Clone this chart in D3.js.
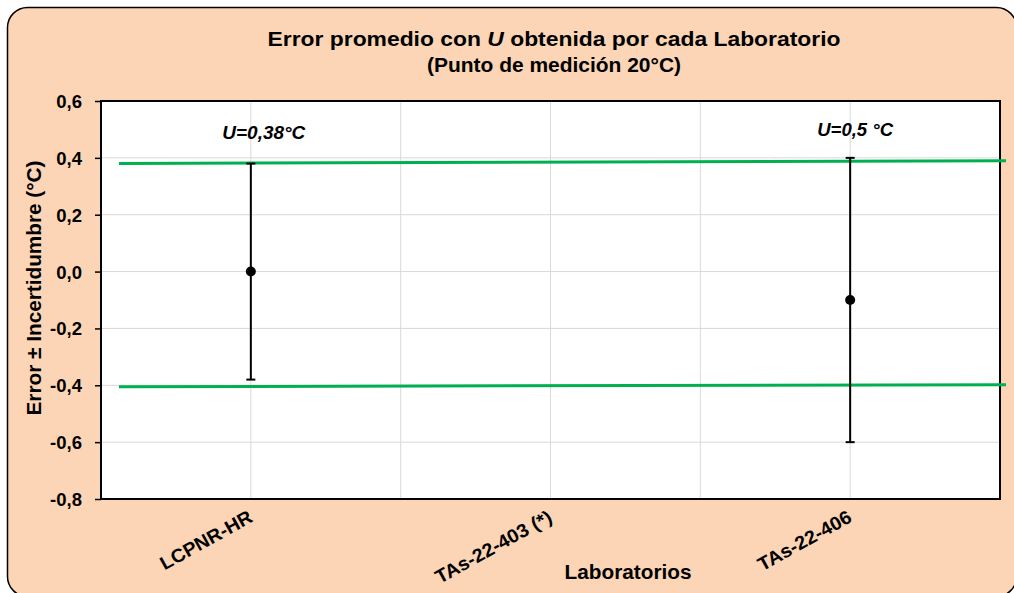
<!DOCTYPE html>
<html>
<head>
<meta charset="utf-8">
<script src="https://cdn.jsdelivr.net/npm/d3@7"></script>
<style>
  body { margin: 0; background: #fff; }
  text { font-family: Arial, "Liberation Sans", sans-serif; font-weight: bold; fill: #000; }
</style>
</head>
<body>
<div id="chart"></div>
<script>
// Data
const labs = ["LCPNR-HR", "TAs-22-403 (*)", "TAs-22-406"];
const labX = [1, 2, 3];
const meanError = [0.0, null, -0.1];
const uncertainty = [0.38, null, 0.5];
const uLabels = ["U=0,38°C", null, "U=0,5 °C"];
const uLabelY = [0.49, null, 0.5];
const upperLimitX = [0.56, 3.52];
const upperLimitY = [0.38, 0.39];
const lowerLimitX = [0.56, 3.52];
const lowerLimitY = [-0.405, -0.398];
const yTicks = [-0.8, -0.6, -0.4, -0.2, 0.0, 0.2, 0.4, 0.6];
const xGrid = [1, 1.5, 2, 2.5, 3];

const width = 1014, height = 593;
const margin = {top: 101, right: 14, bottom: 94, left: 101};

const svg = d3.select("#chart").append("svg")
    .attr("width", width)
    .attr("height", height);

// outer panel (runs slightly past the right and bottom edges)
svg.append("rect")
    .attr("x", 7.5).attr("y", 7.5)
    .attr("width", 1009).attr("height", 589)
    .attr("rx", 20).attr("ry", 20)
    .attr("fill", "#FBD5B5")
    .attr("stroke", "#000")
    .attr("stroke-width", 1.5);

const xScale = d3.scaleLinear()
    .domain([0.5, 3.5])
    .range([margin.left, width - margin.right]);

const yScale = d3.scaleLinear()
    .domain([-0.8, 0.6])
    .range([height - margin.bottom, margin.top]);

// plot area
svg.append("rect")
    .attr("x", xScale(0.5)).attr("y", yScale(0.6))
    .attr("width", xScale(3.5) - xScale(0.5))
    .attr("height", yScale(-0.8) - yScale(0.6))
    .attr("fill", "#fff");

// grid lines
svg.append("g").selectAll("line.h")
    .data(yTicks.slice(1, -1))
    .enter().append("line")
    .attr("x1", xScale(0.5)).attr("x2", xScale(3.5))
    .attr("y1", d => yScale(d)).attr("y2", d => yScale(d))
    .attr("stroke", "#d9d9d9").attr("stroke-width", 1);

svg.append("g").selectAll("line.v")
    .data(xGrid)
    .enter().append("line")
    .attr("x1", d => xScale(d)).attr("x2", d => xScale(d))
    .attr("y1", yScale(0.6)).attr("y2", yScale(-0.8))
    .attr("stroke", "#d9d9d9").attr("stroke-width", 1);

// y axis
const yAxis = d3.axisLeft(yScale)
    .tickValues(yTicks)
    .tickSize(6)
    .tickFormat(d => d3.format(".1f")(d).replace(".", ",").replace("−", "-"));

const yG = svg.append("g")
    .attr("transform", `translate(${xScale(0.5)},0)`)
    .call(yAxis);
yG.select(".domain").remove();
yG.selectAll(".tick line").attr("stroke", "#000").attr("stroke-width", 1.5);
yG.selectAll(".tick text")
    .attr("x", -19)
    .attr("dy", "0.35em")
    .style("font-size", "18.5px")
    .style("font-family", "Arial, 'Liberation Sans', sans-serif")
    .style("font-weight", "bold");

// plot border
svg.append("rect")
    .attr("x", xScale(0.5)).attr("y", yScale(0.6))
    .attr("width", xScale(3.5) - xScale(0.5))
    .attr("height", yScale(-0.8) - yScale(0.6))
    .attr("fill", "none")
    .attr("stroke", "#000")
    .attr("stroke-width", 2);

// limit lines
const line = d3.line().x(d => xScale(d[0])).y(d => yScale(d[1]));
svg.append("path")
    .attr("d", line(d3.zip(upperLimitX, upperLimitY)))
    .attr("stroke", "#00B050").attr("stroke-width", 3).attr("fill", "none");
svg.append("path")
    .attr("d", line(d3.zip(lowerLimitX, lowerLimitY)))
    .attr("stroke", "#00B050").attr("stroke-width", 3).attr("fill", "none");

// error bars and points
labs.forEach((lab, i) => {
    if (meanError[i] === null) return;
    const cx = xScale(labX[i]);
    const top = yScale(meanError[i] + uncertainty[i]);
    const bot = yScale(meanError[i] - uncertainty[i]);
    const g = svg.append("g");
    g.append("line")
        .attr("x1", cx).attr("x2", cx).attr("y1", top).attr("y2", bot)
        .attr("stroke", "#000").attr("stroke-width", 2);
    [top, bot].forEach(y => {
        g.append("line")
            .attr("x1", cx - 4.5).attr("x2", cx + 4.5)
            .attr("y1", y).attr("y2", y)
            .attr("stroke", "#000").attr("stroke-width", 2);
    });
    g.append("circle")
        .attr("cx", cx).attr("cy", yScale(meanError[i]))
        .attr("r", 5).attr("fill", "#000");
    g.append("text")
        .attr("x", cx + (i === 0 ? 13 : 5))
        .attr("y", yScale(uLabelY[i]))
        .attr("text-anchor", "middle")
        .attr("dy", "0.35em")
        .attr("textLength", i === 0 ? 83 : 76)
        .attr("lengthAdjust", "spacingAndGlyphs")
        .style("font-size", "18px")
        .style("font-style", "italic")
        .text(uLabels[i]);
});

// x tick labels (rotated)
const labLen = [102, 130, 104];
labs.forEach((lab, i) => {
    svg.append("text")
        .attr("text-anchor", "end")
        .attr("transform", `translate(${xScale(labX[i]) + 3},${yScale(-0.8) + 22}) rotate(-29)`)
        .attr("textLength", labLen[i])
        .attr("lengthAdjust", "spacingAndGlyphs")
        .style("font-size", "19px")
        .text(lab);
});

// axis titles
svg.append("text")
    .attr("text-anchor", "middle")
    .attr("x", 628).attr("y", 579)
    .attr("textLength", 127)
    .attr("lengthAdjust", "spacingAndGlyphs")
    .style("font-size", "21px")
    .text("Laboratorios");

svg.append("text")
    .attr("text-anchor", "middle")
    .attr("transform", "translate(41,288) rotate(-90)")
    .attr("textLength", 255)
    .attr("lengthAdjust", "spacingAndGlyphs")
    .style("font-size", "21px")
    .text("Error ± Incertidumbre (°C)");

// chart title
const title = svg.append("text")
    .attr("text-anchor", "middle")
    .attr("x", 554).attr("y", 46)
    .attr("textLength", 573)
    .attr("lengthAdjust", "spacingAndGlyphs")
    .style("font-size", "21px");
title.append("tspan").text("Error promedio con ");
title.append("tspan").style("font-style", "italic").text("U");
title.append("tspan").text(" obtenida por cada Laboratorio");

svg.append("text")
    .attr("text-anchor", "middle")
    .attr("x", 554).attr("y", 72)
    .attr("textLength", 254)
    .attr("lengthAdjust", "spacingAndGlyphs")
    .style("font-size", "21px")
    .text("(Punto de medición 20°C)");
</script>
</body>
</html>
